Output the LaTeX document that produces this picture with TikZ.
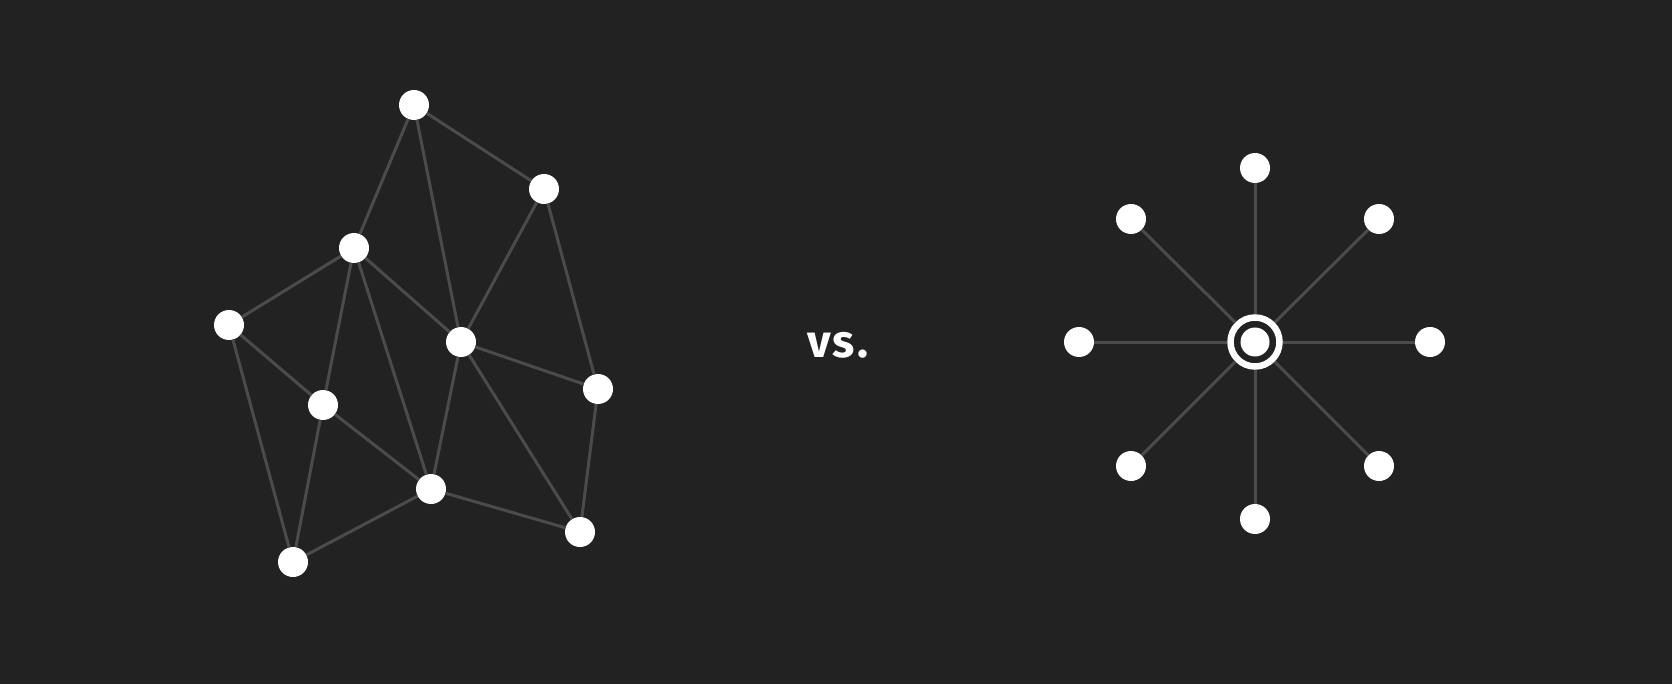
\documentclass[tikz,border=0pt]{standalone}
\usepackage{fontspec}
\setsansfont{Fira Sans}
\usepackage{tikz}

\definecolor{bgcol}{HTML}{222222}
\definecolor{edgecol}{HTML}{4B4B4B}

\begin{document}
\begin{tikzpicture}[x = 1pt, y = -1pt,
                        dot/.style = {circle, fill = white, inner sep = 0pt, minimum size = 30pt},
                        hub/.style = {circle, draw = white, line width = 6.5pt, fill = bgcol, inner sep = 0pt, minimum size = 49pt},
                        link/.style = {edgecol, line width = 3pt}]
        \fill [bgcol] (0,0) rectangle (1672,684);
        \useasboundingbox (0,0) rectangle (1672,684);

        % left: mesh
        \node [dot] (L01) at (414,105) {};
        \node [dot] (L02) at (544,189) {};
        \node [dot] (L03) at (354,248) {};
        \node [dot] (L04) at (229,325) {};
        \node [dot] (L05) at (461,342) {};
        \node [dot] (L06) at (323,405) {};
        \node [dot] (L07) at (598,389) {};
        \node [dot] (L08) at (431,489) {};
        \node [dot] (L09) at (580,532) {};
        \node [dot] (L10) at (293,562) {};

        \node [font = \sffamily\bfseries\fontsize{46}{50}\selectfont\addfontfeature{LetterSpace=6}, text = white, anchor = base] (vs) at (838,357) {vs.};

        % right: star
        \node [hub] (S00) at (1255,342) {};
        \node [dot, minimum size = 29pt] (S0c) at (1255,342) {};
        \node [dot] (S1) at (1255,168) {};
        \node [dot] (S2) at (1379,219) {};
        \node [dot] (S3) at (1430,342) {};
        \node [dot] (S4) at (1379,466) {};
        \node [dot] (S5) at (1255,519) {};
        \node [dot] (S6) at (1131,466) {};
        \node [dot] (S7) at (1079,342) {};
        \node [dot] (S8) at (1131,219) {};

        \draw [link] (L01) -- (L02);
        \draw [link] (L01) -- (L03);
        \draw [link] (L01) -- (L05);
        \draw [link] (L02) -- (L05);
        \draw [link] (L02) -- (L07);
        \draw [link] (L03) -- (L04);
        \draw [link] (L03) -- (L05);
        \draw [link] (L03) -- (L06);
        \draw [link] (L03) -- (L08);
        \draw [link] (L04) -- (L06);
        \draw [link] (L04) -- (L10);
        \draw [link] (L05) -- (L07);
        \draw [link] (L05) -- (L08);
        \draw [link] (L05) -- (L09);
        \draw [link] (L06) -- (L08);
        \draw [link] (L06) -- (L10);
        \draw [link] (L08) -- (L10);
        \draw [link] (L08) -- (L09);
        \draw [link] (L07) -- (L09);

        \foreach \i in {1,...,8}
            \draw [link] (S00) -- (S\i);
        \end{tikzpicture}
\end{document}
